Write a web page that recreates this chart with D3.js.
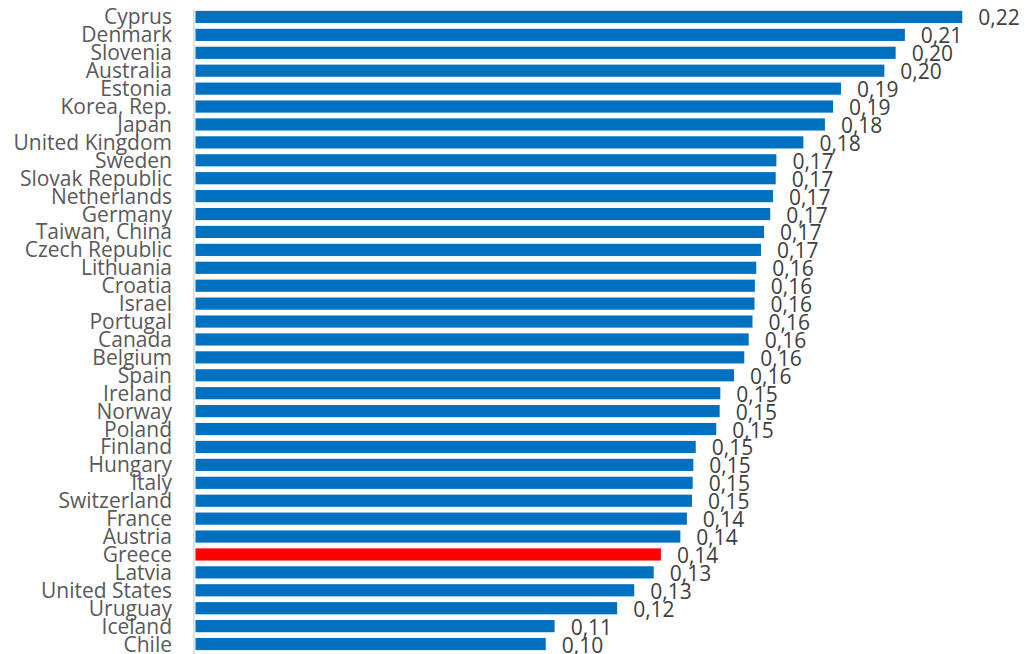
<!DOCTYPE html>
<html><head><meta charset="utf-8">
<script src="https://cdn.jsdelivr.net/npm/d3@7"></script>
<style>html,body{margin:0;padding:0;background:#fff;}</style>
</head><body>
<svg id="chart" width="1025" height="654"></svg>
<script>
const countries = ["Cyprus","Denmark","Slovenia","Australia","Estonia","Korea, Rep.","Japan","United Kingdom","Sweden","Slovak Republic","Netherlands","Germany","Taiwan, China","Czech Republic","Lithuania","Croatia","Israel","Portugal","Canada","Belgium","Spain","Ireland","Norway","Poland","Finland","Hungary","Italy","Switzerland","France","Austria","Greece","Latvia","United States","Uruguay","Iceland","Chile"];
const values = [0.2244,0.2076,0.2049,0.2016,0.1889,0.1866,0.1842,0.1779,0.1700,0.1698,0.1690,0.1682,0.1664,0.1655,0.1641,0.1637,0.1636,0.1630,0.1619,0.1606,0.1576,0.1536,0.1534,0.1524,0.1464,0.1457,0.1455,0.1453,0.1438,0.1419,0.1362,0.1341,0.1284,0.1234,0.1051,0.1025];
const highlight = ["Greece"];

const data = countries.map((c,i)=>({c, v: values[i]}));
const svg = d3.select("#chart");
const x0 = 195.5, k = 3417;
const x = d3.scaleLinear().domain([0, 0.2244]).range([x0, x0 + 0.2244*k]);
const y = d3.scaleBand().domain(countries).range([8, 653]).paddingInner(0.32).paddingOuter(0.16);

svg.selectAll("rect.bar").data(data).enter().append("rect")
  .attr("class","bar")
  .attr("x", x(0))
  .attr("y", d => y(d.c))
  .attr("width", d => x(d.v) - x(0))
  .attr("height", y.bandwidth())
  .attr("fill", d => highlight.includes(d.c) ? "#FF0000" : "#0070C0");

// category axis
const yAxis = d3.axisLeft(y).tickSize(0).tickPadding(0);
const g = svg.append("g").attr("transform", `translate(${x0 - 1.5},0)`).call(yAxis);
g.select(".domain").attr("stroke","#d9d9d9").attr("stroke-width",1.5).attr("d","M0,9V654");
g.selectAll(".tick text")
  .attr("x", -22)
  .attr("dy", null)
  .attr("y", 7.5)
  .attr("font-family","'Open Sans', sans-serif")
  .attr("font-size","21px")
  .attr("fill","#595959")
  .attr("text-anchor","end");

const fmt = v => d3.format(".2f")(v).replace(".", ",");
svg.selectAll("text.lbl").data(data).enter().append("text")
  .attr("class","lbl")
  .attr("x", d => x(d.v) + 16)
  .attr("y", d => y(d.c) + y.bandwidth()/2 + 8.5)
  .attr("font-family","'Open Sans', sans-serif")
  .attr("font-size","21px")
  .attr("fill","#404040")
  .text(d => fmt(d.v));
</script>
</body></html>
